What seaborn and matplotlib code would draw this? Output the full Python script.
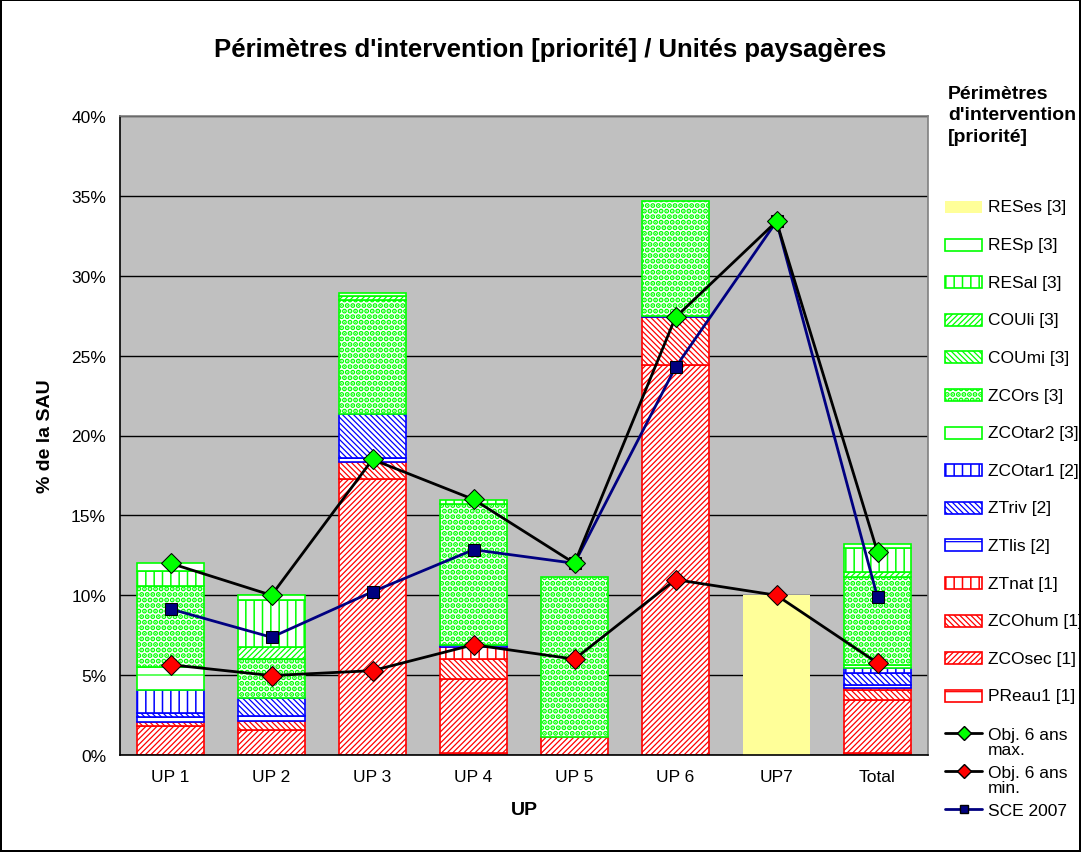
import matplotlib
matplotlib.use("Agg")
import matplotlib.pyplot as plt
import seaborn as sns
import numpy as np
from matplotlib.patches import Rectangle
from matplotlib.lines import Line2D

# ---- data (% de la SAU) ----
categories = ["UP 1", "UP 2", "UP 3", "UP 4", "UP 5", "UP 6", "UP7", "Total"]

preau1 = [0.0, 0.0, 0.0, 0.15, 0.0, 0.0, 0.0, 0.1]
zcosec = [1.83, 1.58, 17.3, 4.6, 1.15, 24.43, 0.0, 3.35]
zcohum = [0.25, 0.56, 1.04, 1.25, 0.0, 2.98, 0.0, 0.63]
ztnat = [0.0, 0.0, 0.0, 0.73, 0.0, 0.0, 0.0, 0.1]
ztlis = [0.27, 0.31, 0.27, 0.17, 0.0, 0.1, 0.0, 0.21]
ztriv = [0.31, 1.09, 2.71, 0.0, 0.0, 0.0, 0.0, 0.73]
zcotar1 = [1.42, 0.0, 0.0, 0.0, 0.0, 0.0, 0.0, 0.31]
zcotar2 = [1.4, 0.0, 0.0, 0.0, 0.0, 0.0, 0.0, 0.21]
zcors = [5.1, 2.46, 7.15, 8.81, 9.98, 7.15, 0.0, 5.53]
coumi = [0.0, 0.0, 0.0, 0.0, 0.0, 0.0, 0.0, 0.0]
couli = [0.0, 0.79, 0.25, 0.0, 0.0, 0.0, 0.0, 0.31]
resal = [0.94, 2.92, 0.0, 0.27, 0.0, 0.0, 0.0, 1.46]
resp = [0.48, 0.31, 0.21, 0.0, 0.0, 0.0, 0.0, 0.27]
reses = [0.0, 0.0, 0.0, 0.0, 0.0, 0.0, 10.0, 0.0]

obj_max = [12.0, 10.0, 18.5, 16.0, 12.0, 27.4, 33.4, 12.7]
obj_min = [5.65, 4.97, 5.28, 6.9, 6.0, 10.98, 10.0, 5.76]
sce_2007 = [9.14, 7.37, 10.22, 12.85, 12.0, 24.27, 33.4, 9.87]

RED = "#FF0000"
BLUE = "#0000FF"
GREEN = "#00FF00"

# (values, label, edge colour, hatch, face, hatch width) -- bottom to top
stack = [
    (preau1, "PReau1 [1]", RED, "-", "white", 0.9),
    (zcosec, "ZCOsec [1]", RED, "//////", "white", 0.9),
    (zcohum, "ZCOhum [1]", RED, "\\\\\\\\\\\\", "white", 0.9),
    (ztnat, "ZTnat [1]", RED, "||", "white", 1.1),
    (ztlis, "ZTlis [2]", BLUE, "-", "white", 0.9),
    (ztriv, "ZTriv [2]", BLUE, "\\\\\\\\\\\\", "white", 0.9),
    (zcotar1, "ZCOtar1 [2]", BLUE, "||", "white", 1.1),
    (zcotar2, "ZCOtar2 [3]", GREEN, "-", "white", 0.9),
    (zcors, "ZCOrs [3]", GREEN, "...", "white", 2.6),
    (coumi, "COUmi [3]", GREEN, "\\\\\\\\\\\\", "white", 0.9),
    (couli, "COUli [3]", GREEN, "//////", "white", 0.9),
    (resal, "RESal [3]", GREEN, "||", "white", 1.1),
    (resp, "RESp [3]", GREEN, "", "white", 0.9),
    (reses, "RESes [3]", "none", "", "#FFFF99", 0.9),
]

sns.set_style("white")
plt.rcParams["font.family"] = ["Liberation Sans", "DejaVu Sans"]
for key in ["text.color", "axes.labelcolor", "xtick.color", "ytick.color"]:
    plt.rcParams[key] = "black"

W, H = 1081, 853
fig = plt.figure(figsize=(W / 100, H / 100), dpi=100)
fig.patch.set_edgecolor("black")
fig.patch.set_linewidth(1.5)
ax = fig.add_axes([120 / W, 1 - 756 / H, 808 / W, 639 / H])
ax.set_facecolor("#C0C0C0")

x = np.arange(len(categories))
bottom = np.zeros(len(categories))
for vals, label, ec, hatch, fc, hw in stack:
    vals = np.array(vals)
    mask = vals > 0
    with plt.rc_context({"hatch.linewidth": hw}):
        ax.bar(x[mask], vals[mask], bottom=bottom[mask], width=0.66,
               facecolor=fc, edgecolor=ec, hatch=hatch, linewidth=1.2, zorder=2)
    bottom += vals

# lines
sns.lineplot(x=x, y=sce_2007, ax=ax, color="#000080", linewidth=2, marker="s",
             markersize=8, markerfacecolor="#000080", markeredgecolor="black",
             sort=False, zorder=4)
sns.lineplot(x=x, y=obj_max, ax=ax, color="black", linewidth=2, marker="D",
             markersize=10, markerfacecolor=GREEN, markeredgecolor="black",
             sort=False, zorder=5)
sns.lineplot(x=x, y=obj_min, ax=ax, color="black", linewidth=2, marker="D",
             markersize=10, markerfacecolor=RED, markeredgecolor="black",
             sort=False, zorder=5)

ax.set_xlim(-0.5, len(categories) - 0.5)
ax.set_ylim(0, 40)
ax.set_yticks(np.arange(0, 41, 5))
ax.set_yticklabels([f"{v}%" for v in range(0, 41, 5)], fontsize=12.5)
ax.yaxis.grid(True, color="black", linewidth=1)
ax.set_axisbelow(True)

ax.set_xticks(np.arange(-0.5, len(categories), 1.0))
ax.set_xticklabels([])
ax.set_xticks(x, minor=True)
ax.set_xticklabels(categories, minor=True, fontsize=12.5)
ax.tick_params(axis="x", which="major", direction="out", length=6, width=1, color="black")
ax.tick_params(axis="x", which="minor", length=0, pad=10)
ax.tick_params(axis="y", direction="out", length=6, width=1, color="black", pad=4)

for side in ["left", "bottom"]:
    ax.spines[side].set_color("black")
    ax.spines[side].set_linewidth(1.2)
for side in ["top", "right"]:
    ax.spines[side].set_color("#808080")
    ax.spines[side].set_linewidth(1.2)

ax.set_xlabel("UP", fontsize=14, fontweight="bold", labelpad=12)
ax.set_ylabel("% de la SAU", fontsize=14, fontweight="bold", labelpad=12)

fig.text(550 / W, 1 - 50 / H, "Périmètres d'intervention [priorité] / Unités paysagères",
         ha="center", va="center", fontsize=18.5, fontweight="bold")

# ---- manual legend ----
fig.text(948 / W, 1 - 116 / H, "Périmètres\nd'intervention\n[priorité]",
         ha="left", va="center", fontsize=14, fontweight="bold", linespacing=1.35)

row_y = 208
step = 37.6
for vals, label, ec, hatch, fc, hw in reversed(stack):
    with plt.rc_context({"hatch.linewidth": hw}):
        rect = Rectangle((945 / W, 1 - (row_y + 6) / H), 37 / W, 12 / H,
                         transform=fig.transFigure, facecolor=fc, edgecolor=ec,
                         hatch=hatch, linewidth=1.2)
    fig.add_artist(rect)
    fig.text(988 / W, 1 - row_y / H, label, ha="left", va="center", fontsize=12.5)
    row_y += step

line_entries = [
    ("Obj. 6 ans\nmax.", "black", "D", GREEN, 7),
    ("Obj. 6 ans\nmin.", "black", "D", RED, 7),
    ("SCE 2007", "#000080", "s", "#000080", 6),
]
for label, lc, mk, mfc, ms in line_entries:
    yy = 1 - row_y / H
    fig.add_artist(Line2D([945 / W, 982 / W], [yy, yy], transform=fig.transFigure,
                          color=lc, linewidth=2))
    fig.add_artist(Line2D([963.5 / W], [yy], transform=fig.transFigure, marker=mk,
                          markersize=ms, markerfacecolor=mfc, markeredgecolor="black",
                          linestyle="none"))
    fig.text(988 / W, yy + 6 / H, label, ha="left", va="top", fontsize=12.5,
             linespacing=1.0)
    row_y += step

fig.savefig("out.png", dpi=100)
